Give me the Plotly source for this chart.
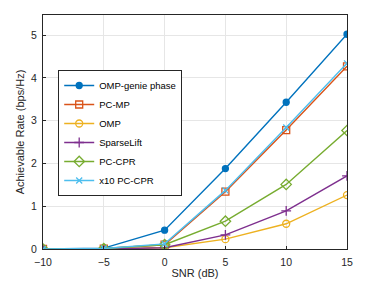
import plotly.graph_objects as go

snr = [-10, -5, 0, 5, 10, 15]
omp_genie = [0.0, 0.02, 0.44, 1.88, 3.43, 5.02]
pc_mp = [0.0, 0.01, 0.10, 1.34, 2.78, 4.27]
omp = [0.0, 0.0, 0.03, 0.23, 0.59, 1.26]
sparselift = [0.0, 0.0, 0.03, 0.33, 0.89, 1.71]
pc_cpr = [0.0, 0.01, 0.10, 0.65, 1.51, 2.77]
x10_pc_cpr = [0.0, 0.01, 0.12, 1.37, 2.84, 4.34]

names = ["OMP-genie phase", "PC-MP", "OMP", "SparseLift", "PC-CPR", "x10 PC-CPR"]
series = [omp_genie, pc_mp, omp, sparselift, pc_cpr, x10_pc_cpr]
colors = ["#0072BD", "#D95319", "#EDB120", "#7E2F8E", "#77AC30", "#4DBEEE"]
symbols = ["circle", "square-open", "circle-open", "cross-thin-open", "diamond-open", "x-thin-open"]
sizes = [6, 7, 7, 7, 8, 6]

fig = go.Figure()
for n, s, c, sym, sz in zip(names, series, colors, symbols, sizes):
    fig.add_trace(go.Scatter(
        x=snr, y=s, name=n, mode="lines+markers",
        line=dict(color=c, width=1.4),
        marker=dict(symbol=sym, size=sz, color=c, line=dict(color=c, width=1.3)),
    ))

axis_common = dict(
    showline=True, linecolor="#262626", linewidth=1, mirror=True,
    showgrid=True, gridcolor="#E6E6E6", gridwidth=1,
    zeroline=False, ticks="inside", ticklen=3, tickcolor="#262626",
    tickfont=dict(family="Liberation Sans, Arial", size=10.5, color="#262626"),
    automargin=False,
)

fig.update_layout(
    width=377, height=286,
    margin=dict(l=43, r=30, t=15, b=37),
    paper_bgcolor="white", plot_bgcolor="white",
    font=dict(family="Liberation Sans, Arial", size=11, color="#262626"),
    xaxis=dict(range=[-10, 15], tickvals=[-10, -5, 0, 5, 10, 15], ticklabelstandoff=3,
               title=dict(text="SNR (dB)", font=dict(size=11), standoff=2), **axis_common),
    yaxis=dict(range=[0, 5.47], tickvals=[0, 1, 2, 3, 4, 5], ticklabelstandoff=3,
               title=dict(text="Achievable Rate (bps/Hz)", font=dict(size=11), standoff=4), **axis_common),
    legend=dict(x=0.05, y=0.765, xanchor="left", yanchor="top",
                bgcolor="white", bordercolor="#262626", borderwidth=1,
                font=dict(size=9.5, color="#000000"), tracegroupgap=0,
                itemwidth=30),
    showlegend=True,
)

fig.write_html("out.html", config={"displayModeBar": False},
               post_script="document.body.style.margin='0';")
